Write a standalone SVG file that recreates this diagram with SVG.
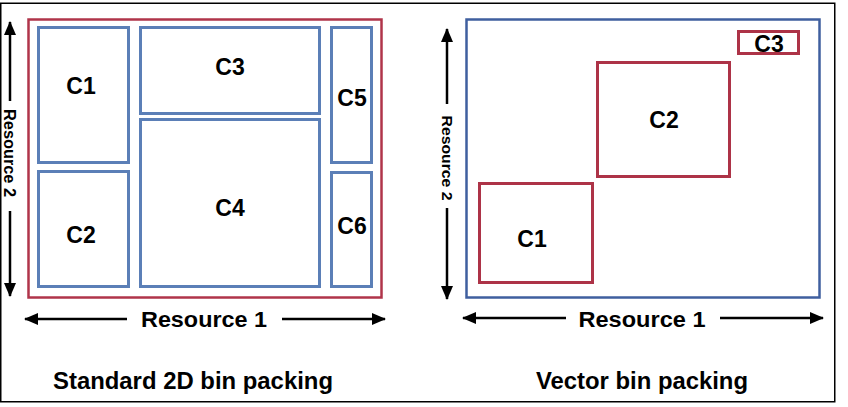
<svg xmlns="http://www.w3.org/2000/svg" width="848" height="407" viewBox="0 0 848 407">
<defs>
<marker id="ah" viewBox="0 0 14 12" refX="13" refY="6" markerWidth="14" markerHeight="12" markerUnits="userSpaceOnUse" orient="auto-start-reverse">
<path d="M0,0 L14,6 L0,12 Z" fill="#000"/>
</marker>
<style>
.frame{fill:#fff;stroke:#000;stroke-width:1.5}
.bin-red{fill:none;stroke:#b0344a;stroke-width:2.5}
.bin-blue{fill:none;stroke:#3f5f9f;stroke-width:2.5}
.cblue{fill:none;stroke:#5b7fb7;stroke-width:3}
.cred{fill:none;stroke:#ad3347;stroke-width:3}
.lbl{font-family:"Liberation Sans",Arial,sans-serif;font-weight:bold;font-size:23px;fill:#000;text-anchor:middle}
.res{font-family:"Liberation Sans",Arial,sans-serif;font-weight:bold;font-size:22px;fill:#000;text-anchor:middle}
.res2{font-family:"Liberation Sans",Arial,sans-serif;font-weight:bold;font-size:16px;fill:#000;text-anchor:middle}
.title{font-family:"Liberation Sans",Arial,sans-serif;font-weight:bold;font-size:23px;fill:#000;text-anchor:middle}
.arr{stroke:#000;stroke-width:2.5;fill:none;marker-end:url(#ah)}
</style>
</defs>
<rect class="frame" x="0.75" y="3.25" width="834" height="398.5"/>

<!-- Left panel -->
<g id="left-bin"><rect class="bin-red" x="28.5" y="19.5" width="353" height="278"/></g>
<g id="L-C1"><rect class="cblue" x="38.5" y="27.5" width="90" height="135"/><text class="lbl" x="81" y="94">C1</text></g>
<g id="L-C3"><rect class="cblue" x="140.5" y="27.5" width="179" height="86"/><text class="lbl" x="230" y="75">C3</text></g>
<g id="L-C4"><rect class="cblue" x="140.5" y="119.5" width="179" height="167"/><text class="lbl" x="230" y="216">C4</text></g>
<g id="L-C5"><rect class="cblue" x="331.5" y="27.5" width="40" height="135"/><text class="lbl" x="352" y="106">C5</text></g>
<g id="L-C2"><rect class="cblue" x="38.5" y="171.5" width="90" height="115"/><text class="lbl" x="81" y="243">C2</text></g>
<g id="L-C6"><rect class="cblue" x="331.5" y="172.5" width="40" height="114"/><text class="lbl" x="352" y="234">C6</text></g>

<!-- Right panel -->
<g id="right-bin"><rect class="bin-blue" x="466.5" y="19.5" width="353" height="278"/></g>
<g id="R-C3"><rect class="cred" x="738.5" y="31.5" width="60" height="22"/><text class="lbl" x="769" y="52">C3</text></g>
<g id="R-C2"><rect class="cred" x="597.5" y="62.5" width="132" height="114"/><text class="lbl" x="664" y="128">C2</text></g>
<g id="R-C1"><rect class="cred" x="479.5" y="183.5" width="113" height="99"/><text class="lbl" x="532" y="247">C1</text></g>

<g id="connectors">
<line class="arr" x1="10" y1="101" x2="10" y2="22"/>
<line class="arr" x1="10" y1="211" x2="10" y2="296"/>
<line class="arr" x1="127" y1="319" x2="25" y2="319"/>
<line class="arr" x1="282" y1="319" x2="385" y2="319"/>
<line class="arr" x1="447" y1="104" x2="447" y2="29"/>
<line class="arr" x1="447" y1="208" x2="447" y2="299"/>
<line class="arr" x1="566" y1="318" x2="463" y2="318"/>
<line class="arr" x1="720" y1="318" x2="823" y2="318"/>
</g>

<text class="res2" transform="translate(4,153) rotate(90)" textLength="88" lengthAdjust="spacingAndGlyphs">Resource 2</text>
<text class="res2" transform="translate(442,158) rotate(90)" textLength="85" lengthAdjust="spacingAndGlyphs" style="font-size:14px">Resource 2</text>
<text class="res" x="204" y="327" textLength="126" lengthAdjust="spacingAndGlyphs">Resource 1</text>
<text class="res" x="642" y="327" textLength="127" lengthAdjust="spacingAndGlyphs">Resource 1</text>
<text class="title" x="193" y="389" textLength="280" lengthAdjust="spacingAndGlyphs">Standard 2D bin packing</text>
<text class="title" x="642" y="389" textLength="212" lengthAdjust="spacingAndGlyphs">Vector bin packing</text>
</svg>
